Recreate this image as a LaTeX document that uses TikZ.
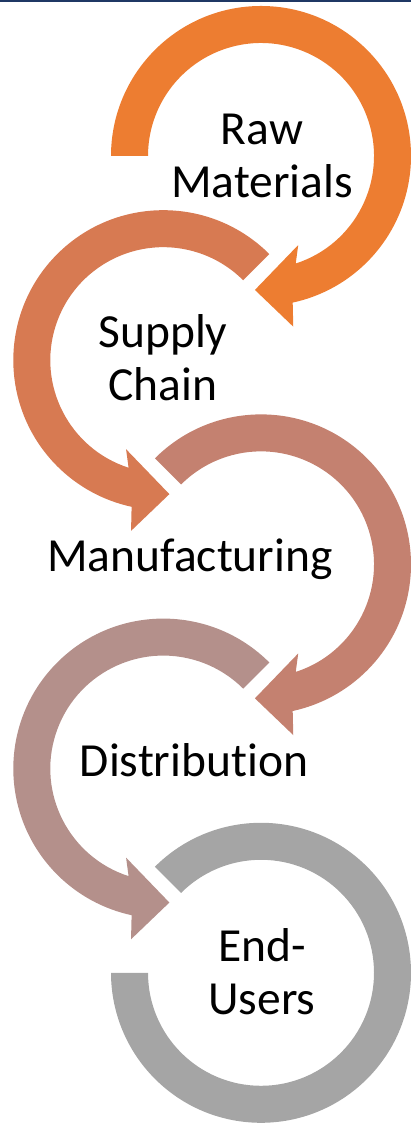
\documentclass[tikz,border=0pt]{standalone}
\usepackage{fontspec}
\setmainfont{Carlito}[Ligatures={NoCommon}]
\definecolor{cA}{HTML}{ED7D31}
\definecolor{cB}{HTML}{D77A52}
\definecolor{cC}{HTML}{C48170}
\definecolor{cD}{HTML}{B4908B}
\definecolor{cE}{HTML}{A5A5A5}
\definecolor{navy}{HTML}{1F3864}
\tikzset{
  lbl/.style={anchor=base, inner sep=0pt, text=black, font=\fontsize{47.5}{52.5}\selectfont},
}
\newcommand{\rarrowring}[3]{% center, start angle, colour
  \fill[#3, shift={#1}] (#2:150) arc[start angle=#2, end angle=-77.8, radius=150]
    -- (-79.3:173.7) -- (-92.6:134.1) -- (-67.3:96.5) -- (-72.1:113)
    arc[start angle=-72.1, end angle=#2, radius=113] -- cycle;}
\newcommand{\larrowring}[3]{% center, start angle, colour
  \fill[#3, shift={#1}] (#2:150) arc[start angle=#2, end angle=257.8, radius=150]
    -- (259.3:173.7) -- (272.6:134.1) -- (247.3:96.5) -- (252.1:113)
    arc[start angle=252.1, end angle=#2, radius=113] -- cycle;}
\begin{document}
\begin{tikzpicture}[x=1pt,y=1pt]
\useasboundingbox (0,0) rectangle (411,1123);
\fill[navy] (0,1121) rectangle (411,1123);
\coordinate (c1) at (261,967);
\coordinate (c2) at (163.3,762.8);
\coordinate (c3) at (261,558.6);
\coordinate (c4) at (163.3,354.4);
\coordinate (c5) at (261,150.2);
\rarrowring{(c1)}{180}{cA}
\larrowring{(c2)}{45}{cB}
\rarrowring{(c3)}{135}{cC}
\larrowring{(c4)}{45}{cD}
\fill[cE, shift={(c5)}] (135:150) arc[start angle=135, end angle=-180, radius=150]
  -- (180:113) arc[start angle=-180, end angle=135, radius=113] -- cycle;
\node[lbl] (t1) at (262,978) {\begin{tabular}[t]{@{}c@{}}Raw\\Materials\end{tabular}};
\node[lbl] (t2) at (163,775) {\begin{tabular}[t]{@{}c@{}}Supply\\Chain\end{tabular}};
\node[lbl] (t3) at (190,551) {Manufacturing};
\node[lbl] (t4) at (194,346) {Distribution};
\node[lbl] (t5) at (262,161) {\begin{tabular}[t]{@{}c@{}}End-\\Users\end{tabular}};
\end{tikzpicture}
\end{document}
